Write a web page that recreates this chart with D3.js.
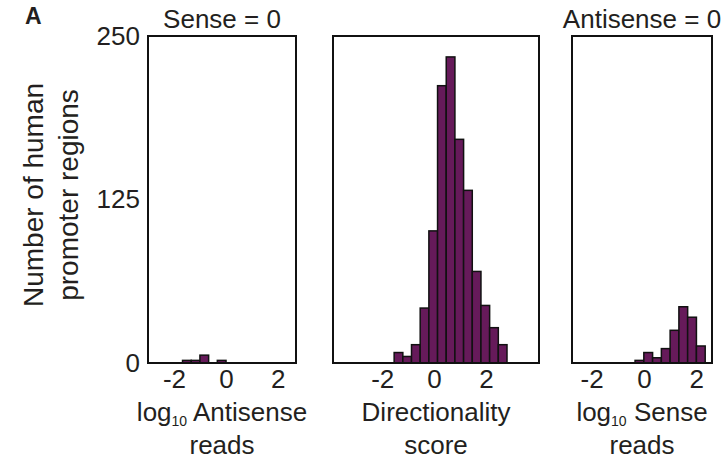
<!DOCTYPE html>
<meta charset="utf-8">
<style>
body { margin: 0; background: #fff; }
text {
  font-family: "Liberation Sans", Arial, Helvetica, sans-serif;
  fill: #231f20;
}
.frame {
  fill: none;
  stroke: #111;
  stroke-width: 2px;
}
.bar {
  fill: #661a5a;
  stroke: #111;
  stroke-width: 1.5px;
}
</style>
<body>
<svg width="722" height="462"></svg>
<script src="https://d3js.org/d3.v7.min.js"></script>
<script>
// histogram counts, bins are ~1/3 unit wide
var binWidth = 0.335;

var antisenseBinStart = -1.67;          // Sense = 0, log10 antisense reads
var antisenseCounts = [2, 2, 6, 0, 2];

var directionBinStart = -1.54;          // directionality score
var directionCounts = [8, 5, 14, 42, 101, 212, 234, 171, 132, 70, 44, 27, 14];

var senseBinStart = -0.34;              // Antisense = 0, log10 sense reads
var senseCounts = [2, 8, 4, 11, 25, 43, 35, 13];

var xTicks = [-2, 0, 2];
var yTicks = [0, 125, 250];

var svg = d3.select("svg");

var y = d3.scaleLinear().domain([0, 250]).range([363, 36]);

// one entry per panel: x domain and pixel range
var panels = [
  { start: antisenseBinStart, counts: antisenseCounts, domain: [-3, 2.7], range: [148, 296],
    title: "Sense = 0", label: ["log", "10", " Antisense", "reads"] },
  { start: directionBinStart, counts: directionCounts, domain: [-3.9, 4.05], range: [333, 539],
    title: null, label: [null, null, "Directionality", "score"] },
  { start: senseBinStart, counts: senseCounts, domain: [-2.75, 2.6], range: [572, 712],
    title: "Antisense = 0", label: ["log", "10", " Sense", "reads"] }
];

panels.forEach(function(p) {
  var x = d3.scaleLinear().domain(p.domain).range(p.range);
  var g = svg.append("g");

  var bins = p.counts.map(function(c, i) {
    return { x0: p.start + i * binWidth, x1: p.start + (i + 1) * binWidth, n: c };
  }).filter(function(d) { return d.n > 0; });

  g.selectAll("rect.bar")
    .data(bins)
    .enter().append("rect")
      .attr("class", "bar")
      .attr("x", function(d) { return x(d.x0); })
      .attr("width", function(d) { return x(d.x1) - x(d.x0); })
      .attr("y", function(d) { return y(d.n); })
      .attr("height", function(d) { return y(0) - y(d.n); });

  g.append("rect")
    .attr("class", "frame")
    .attr("x", p.range[0])
    .attr("y", y(250))
    .attr("width", p.range[1] - p.range[0])
    .attr("height", y(0) - y(250));

  var ax = g.append("g")
    .attr("transform", "translate(0," + y(0) + ")")
    .call(d3.axisBottom(x).tickValues(xTicks).tickSize(0).tickPadding(7)
      .tickFormat(function(d) { return d < 0 ? "-" + Math.abs(d) : d; }));
  ax.select(".domain").remove();
  ax.selectAll("text").style("font-size", "26px").style("font-family", null).attr("fill", null);

  var cx = (p.range[0] + p.range[1]) / 2;

  if (p.title) {
    g.append("text")
      .attr("x", cx)
      .attr("y", 28)
      .attr("text-anchor", "middle")
      .style("font-size", "26px")
      .text(p.title);
  }

  var t = g.append("text")
    .attr("x", cx)
    .attr("y", 421)
    .attr("text-anchor", "middle")
    .style("font-size", "26px");
  if (p.label[0]) {
    t.append("tspan").text(p.label[0]);
    t.append("tspan").attr("dy", 5).style("font-size", "14px").text(p.label[1]);
    t.append("tspan").attr("dy", -5).text(p.label[2]);
  } else {
    t.text(p.label[2]);
  }
  g.append("text")
    .attr("x", cx)
    .attr("y", 454)
    .attr("text-anchor", "middle")
    .style("font-size", "26px")
    .text(p.label[3]);
});

// shared y axis on the left
var yAx = svg.append("g")
  .attr("transform", "translate(148,0)")
  .call(d3.axisLeft(y).tickValues(yTicks).tickSize(0).tickPadding(8));
yAx.select(".domain").remove();
yAx.selectAll("text").style("font-size", "26px").style("font-family", null).attr("fill", null);

var yTitle = svg.append("g").attr("transform", "translate(0,195) rotate(-90)");
yTitle.append("text")
  .attr("x", 0).attr("y", 43)
  .attr("text-anchor", "middle")
  .style("font-size", "28px")
  .text("Number of human");
yTitle.append("text")
  .attr("x", 0).attr("y", 78)
  .attr("text-anchor", "middle")
  .style("font-size", "28px")
  .text("promoter regions");

// panel letter
svg.append("text")
  .attr("x", 25)
  .attr("y", 24)
  .style("font-size", "23px")
  .style("font-weight", "bold")
  .text("A");
</script>
</body>
